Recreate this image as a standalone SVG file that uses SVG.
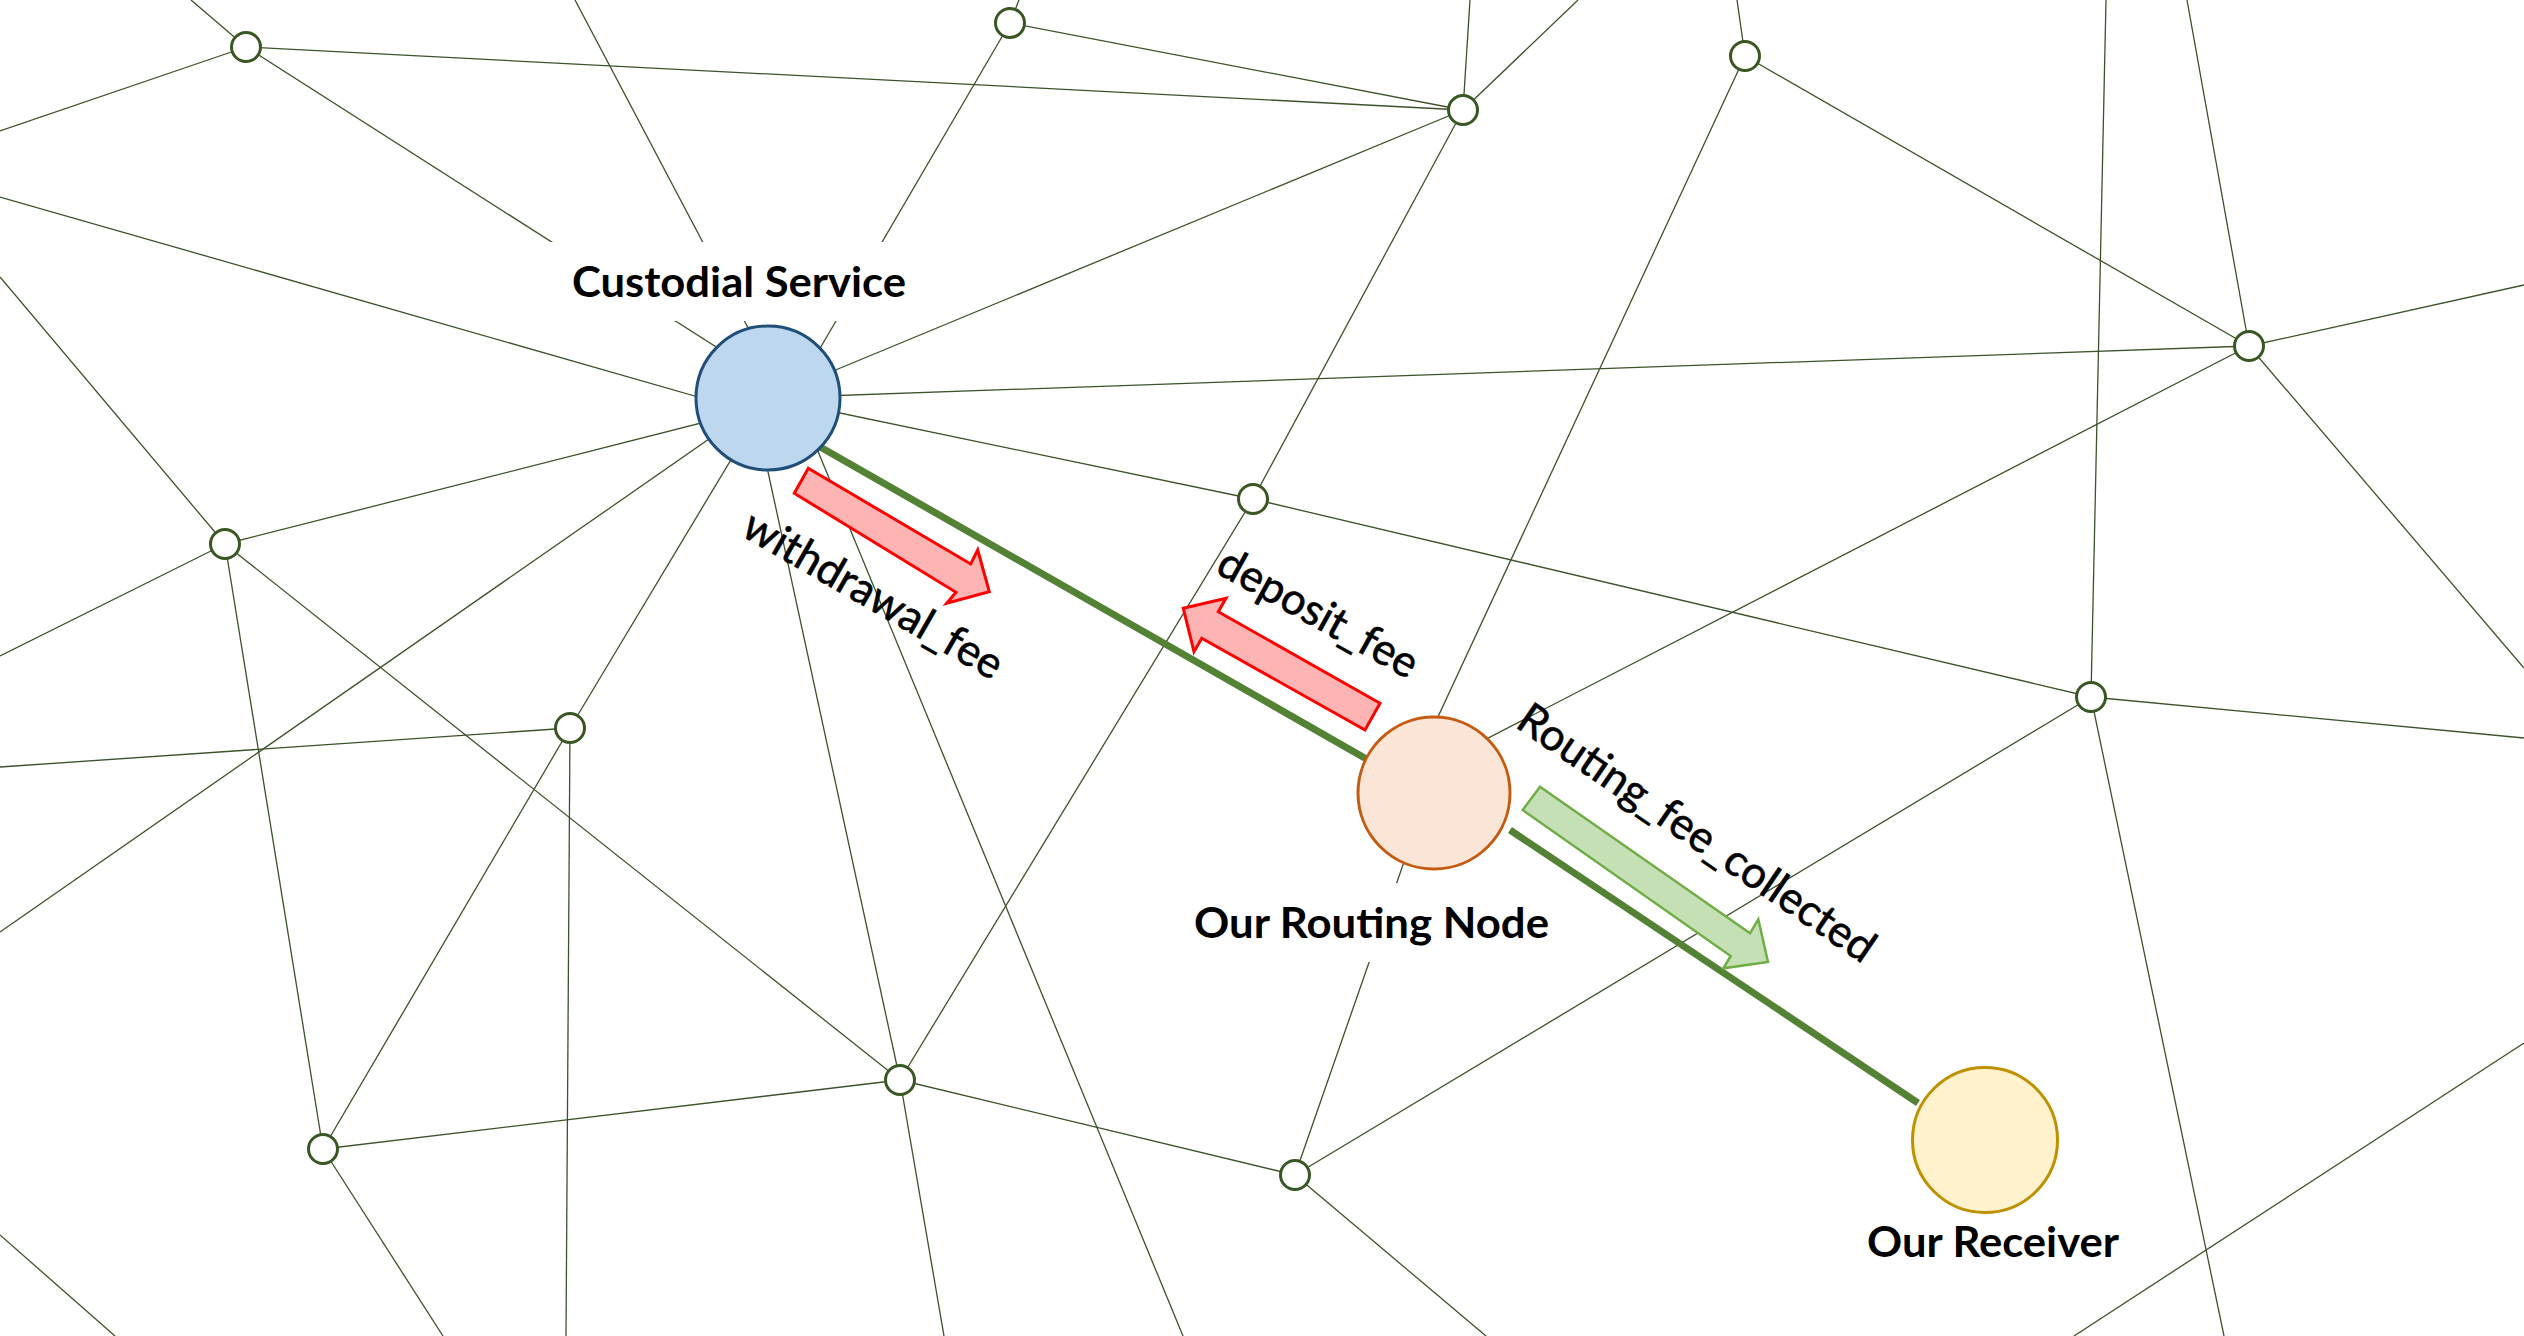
<svg xmlns="http://www.w3.org/2000/svg" width="2524" height="1336" viewBox="0 0 2524 1336">
<style>
.ln{stroke:#3d5229;stroke-width:1.3;fill:none}
.thick{stroke:#548235;stroke-width:7;fill:none}
.sn{fill:#ffffff;stroke:#385723;stroke-width:3}
.bold{font-family:Lato,"Liberation Sans",sans-serif;font-weight:bold;font-size:42px;fill:#000}
.reg{font-family:Lato,"Liberation Sans",sans-serif;font-size:44px;fill:#000;stroke:#000;stroke-width:0.6}
.red{fill:#FFB4B4;stroke:#FF0000;stroke-width:3;stroke-linejoin:miter}
.grn{fill:#C5E0B4;stroke:#70AD47;stroke-width:2.5;stroke-linejoin:miter}
</style>
<rect x="0" y="0" width="2524" height="1336" fill="#ffffff"/>
<g id="connectors">
<line class="ln" x1="246" y1="47" x2="768" y2="380"/>
<line class="ln" x1="575" y1="0" x2="785" y2="398"/>
<line class="ln" x1="1010" y1="23" x2="791" y2="398"/>
<line class="ln" x1="768" y1="398" x2="1463" y2="110"/>
<line class="ln" x1="768" y1="398" x2="2249" y2="346"/>
<line class="ln" x1="768" y1="398" x2="1253" y2="499"/>
<line class="ln" x1="0" y1="197" x2="740" y2="409"/>
<line class="ln" x1="225" y1="544" x2="768" y2="406"/>
<line class="ln" x1="768" y1="398" x2="0" y2="932"/>
<line class="ln" x1="768" y1="398" x2="570" y2="728"/>
<line class="ln" x1="752" y1="398" x2="900" y2="1080"/>
<line class="ln" x1="796" y1="398" x2="1183" y2="1336"/>
<line class="ln" x1="246" y1="47" x2="191" y2="0"/>
<line class="ln" x1="246" y1="47" x2="0" y2="131"/>
<line class="ln" x1="246" y1="47" x2="1463" y2="110"/>
<line class="ln" x1="1010" y1="23" x2="1019" y2="0"/>
<line class="ln" x1="1010" y1="23" x2="1463" y2="110"/>
<line class="ln" x1="1463" y1="110" x2="1470" y2="0"/>
<line class="ln" x1="1463" y1="110" x2="1578" y2="0"/>
<line class="ln" x1="1463" y1="110" x2="1253" y2="499"/>
<line class="ln" x1="1745" y1="56" x2="1737" y2="0"/>
<line class="ln" x1="1745" y1="56" x2="2249" y2="346"/>
<line class="ln" x1="1745" y1="56" x2="1404" y2="790"/>
<line class="ln" x1="2249" y1="346" x2="2187" y2="0"/>
<line class="ln" x1="2249" y1="346" x2="2524" y2="285"/>
<line class="ln" x1="2249" y1="346" x2="2524" y2="668"/>
<line class="ln" x1="2249" y1="346" x2="1434" y2="766"/>
<line class="ln" x1="1253" y1="499" x2="2091" y2="697"/>
<line class="ln" x1="1253" y1="499" x2="900" y2="1080"/>
<line class="ln" x1="225" y1="544" x2="0" y2="277"/>
<line class="ln" x1="225" y1="544" x2="0" y2="656"/>
<line class="ln" x1="225" y1="544" x2="323" y2="1149"/>
<line class="ln" x1="225" y1="544" x2="900" y2="1080"/>
<line class="ln" x1="570" y1="728" x2="0" y2="767"/>
<line class="ln" x1="570" y1="728" x2="323" y2="1149"/>
<line class="ln" x1="570" y1="728" x2="566" y2="1336"/>
<line class="ln" x1="2091" y1="697" x2="2106" y2="0"/>
<line class="ln" x1="2091" y1="697" x2="2524" y2="738"/>
<line class="ln" x1="2091" y1="697" x2="2224" y2="1336"/>
<line class="ln" x1="2091" y1="697" x2="1295" y2="1175"/>
<line class="ln" x1="900" y1="1080" x2="323" y2="1149"/>
<line class="ln" x1="900" y1="1080" x2="1295" y2="1175"/>
<line class="ln" x1="900" y1="1080" x2="944" y2="1336"/>
<line class="ln" x1="323" y1="1149" x2="443" y2="1336"/>
<line class="ln" x1="0" y1="1235" x2="115" y2="1336"/>
<line class="ln" x1="1295" y1="1175" x2="1428" y2="793"/>
<line class="ln" x1="1295" y1="1175" x2="1486" y2="1336"/>
<line class="ln" x1="2074" y1="1336" x2="2524" y2="1043"/>
<line class="thick" x1="815" y1="444" x2="1370" y2="761"/>
<line class="thick" x1="1510" y1="830" x2="1918" y2="1103"/>
</g>
<g id="label-backgrounds">
<rect x="540" y="242" width="395" height="79" fill="#ffffff"/>
<rect x="1180" y="883" width="390" height="79" fill="#ffffff"/>
</g>
<g id="n1"><circle class="sn" cx="246" cy="47" r="14.5"/></g>
<g id="n2"><circle class="sn" cx="1010" cy="23" r="14.5"/></g>
<g id="n3"><circle class="sn" cx="1463" cy="110" r="14.5"/></g>
<g id="n4"><circle class="sn" cx="1745" cy="56" r="14.5"/></g>
<g id="n5"><circle class="sn" cx="2249" cy="346" r="14.5"/></g>
<g id="n6"><circle class="sn" cx="1253" cy="499" r="14.5"/></g>
<g id="n7"><circle class="sn" cx="225" cy="544" r="14.5"/></g>
<g id="n8"><circle class="sn" cx="570" cy="728" r="14.5"/></g>
<g id="n9"><circle class="sn" cx="2091" cy="697" r="14.5"/></g>
<g id="n10"><circle class="sn" cx="900" cy="1080" r="14.5"/></g>
<g id="n11"><circle class="sn" cx="323" cy="1149" r="14.5"/></g>
<g id="n12"><circle class="sn" cx="1295" cy="1175" r="14.5"/></g>
<g id="custodial-service">
<circle cx="768" cy="398" r="72" fill="#BDD7EE" stroke="#1F4E79" stroke-width="3"/>
<text class="bold" x="572" y="297" textLength="334" lengthAdjust="spacingAndGlyphs">Custodial Service</text>
</g>
<g id="our-routing-node">
<circle cx="1434" cy="793" r="76" fill="#FBE5D6" stroke="#C55A11" stroke-width="3"/>
<text class="bold" x="1194" y="938" textLength="355" lengthAdjust="spacingAndGlyphs">Our Routing Node</text>
</g>
<g id="our-receiver">
<circle cx="1985" cy="1140" r="72.5" fill="#FFF2CC" stroke="#BF9000" stroke-width="3"/>
<text class="bold" x="1867" y="1257" textLength="252" lengthAdjust="spacingAndGlyphs">Our Receiver</text>
</g>
<g id="withdrawal-fee">
<polygon class="red" points="808.3,468.3 970.7,564 977.7,550 989.3,591.7 946.7,603.3 956,592.3 794.3,493.3"/>
<text class="reg" transform="translate(871,599) rotate(30)" x="0" y="10" text-anchor="middle" textLength="292" lengthAdjust="spacingAndGlyphs">withdrawal_fee</text>
</g>
<g id="deposit-fee">
<polygon class="red" points="1183.3,608.3 1226,598.3 1218.3,611.7 1380,703.3 1365,730 1201.7,638.3 1194,651.7"/>
<text class="reg" transform="translate(1316,617) rotate(29)" x="0" y="10" text-anchor="middle" textLength="222" lengthAdjust="spacingAndGlyphs">deposit_fee</text>
</g>
<g id="routing-fee-collected">
<polygon class="grn" points="1540,786.7 1750,933.3 1758.3,919.3 1768,962 1723.3,968.3 1730.7,956 1522.7,810"/>
<text class="reg" transform="translate(1694,837) rotate(34.3)" x="0" y="10" text-anchor="middle" textLength="422" lengthAdjust="spacingAndGlyphs">Routing_fee_collected</text>
</g>
</svg>
